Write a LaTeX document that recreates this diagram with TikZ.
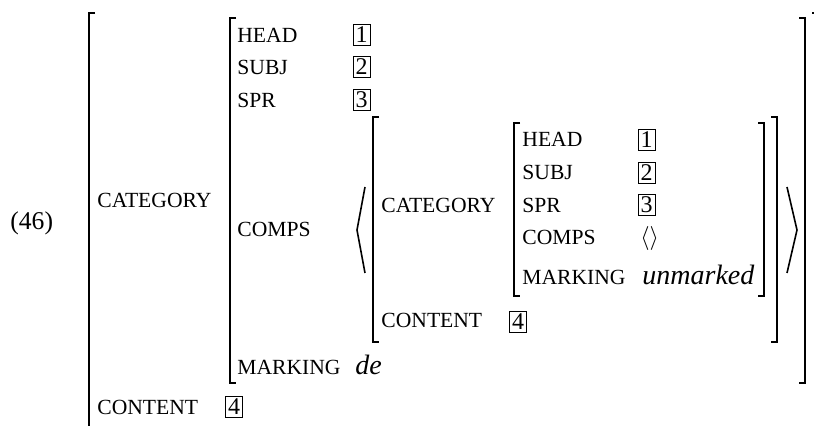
\documentclass[tikz,border=0pt]{standalone}
\usepackage{fontspec}
\setmainfont{Liberation Serif}
\usetikzlibrary{positioning}

\begin{document}
\begin{tikzpicture}[
  x=0.5pt, y=-0.5pt,
  attr/.style={font=\fontsize{10.8}{13}\selectfont,inner sep=0pt,anchor=base west},
  val/.style={font=\fontsize{14}{16}\selectfont\itshape,inner sep=0pt,anchor=base west},
  tag/.style={draw,line width=0.45pt,font=\fontsize{12}{14}\selectfont,inner sep=0pt,
              minimum width=8.5pt,minimum height=10.5pt},
  brk/.style={line width=0.9pt},
  ang/.style={line width=0.8pt,line join=miter}
]
\useasboundingbox (0,0) rectangle (814,426);
\clip (0,0) rectangle (814,426);

% ---- example number ----
\node[inner sep=0pt,anchor=base west,font=\fontsize{12.8}{15}\selectfont] (exno) at (10,230) {(46)};

% ---- outermost matrix ----
\draw[brk] (95,13) -- (89,13) -- (89,440);
\draw[brk] (812,13) -- (818,13) -- (818,440);
\node[attr] (cat) at (97,208) {CATEGORY};
\node[attr] (cont) at (97,415) {CONTENT};
\node[tag] (tagfour) at (234,407) {4};

% ---- value of CATEGORY ----
\draw[brk] (236,18) -- (230,18) -- (230,383) -- (236,383);
\draw[brk] (799,18) -- (805,18) -- (805,383) -- (799,383);
\node[attr] (head) at (237,43) {HEAD};
\node[attr] (subj) at (237,75) {SUBJ};
\node[attr] (spr) at (237,108) {SPR};
\node[attr] (comps) at (237,237) {COMPS};
\node[attr] (mark) at (237,375) {MARKING};
\node[val] (de) at (355,375) {de};
\node[tag] (tagone) at (361.5,35) {1};
\node[tag] (tagtwo) at (361.5,67) {2};
\node[tag] (tagthree) at (361.5,100) {3};

% list brackets round the one element of COMPS
\draw[ang] (365,187) -- (357,230) -- (365,273);
\draw[ang] (787,187) -- (797,230) -- (787,273);

% ---- the element of COMPS ----
\draw[brk] (379,117) -- (373,117) -- (373,342) -- (379,342);
\draw[brk] (771,117) -- (777,117) -- (777,342) -- (771,342);
\node[attr] (icat) at (381,213) {CATEGORY};
\node[attr] (icont) at (381,328) {CONTENT};
\node[tag] (itagfour) at (518,322) {4};

% its CATEGORY value
\draw[brk] (520,123) -- (514,123) -- (514,296) -- (520,296);
\draw[brk] (758,123) -- (764,123) -- (764,296) -- (758,296);
\node[attr] (ihead) at (522,147) {HEAD};
\node[attr] (isubj) at (522,180) {SUBJ};
\node[attr] (ispr) at (522,213) {SPR};
\node[attr] (icomps) at (522,245) {COMPS};
\node[attr] (imark) at (522,285) {MARKING};
\node[tag] (itagone) at (646.5,140) {1};
\node[tag] (itagtwo) at (646.5,173) {2};
\node[tag] (itagthree) at (646.5,205) {3};
\node[inner sep=0pt,anchor=base west,font=\fontsize{12}{14}\selectfont] (elist) at (640,245) {$\langle\rangle$};
\node[val] (unm) at (642,285) {unmarked};

\end{tikzpicture}
\end{document}
